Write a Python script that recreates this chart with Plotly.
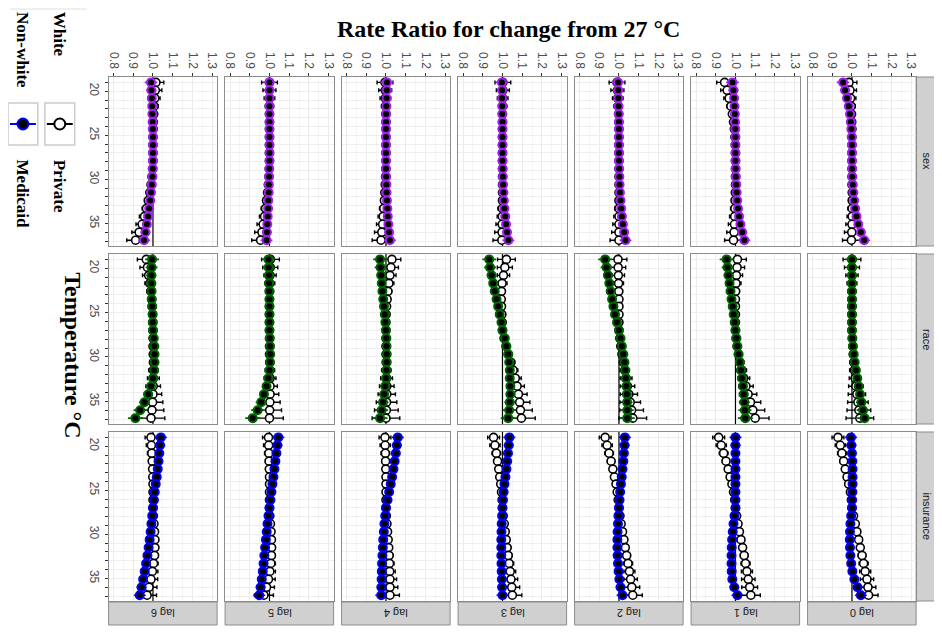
import plotly.graph_objects as go

# page body has an 8px default margin: figure is drawn 8px in from the top-left
OFF = 8
W, H = 942 - OFF, 634 - OFF

temps = [19.0, 19.9, 20.8, 21.7, 22.6, 23.5, 24.3, 25.2, 26.1, 27.0, 27.9,
         28.8, 29.7, 30.6, 31.5, 32.4, 33.3, 34.2, 35.1, 36.0, 36.9]
temp_range = [37.56, 18.39]
rr_range = [0.775, 1.325]
ref_rr = 1.0
lag_labels = ["lag 0", "lag 1", "lag 2", "lag 3", "lag 4", "lag 5", "lag 6"]
row_labels = ["sex", "race", "insurance"]
row_colors = ["#A020F0", "#006400", "#0000FF"]
rr_ticks = [0.8, 0.9, 1.0, 1.1, 1.2, 1.3]
temp_labels = {20: "20", 25: "25", 30: "30", 35: "35"}

# ---- sex: filled (purple) and open series, lag 0..6
sex_filled = [
    [0.955,0.965,0.975,0.984,0.99,0.994,0.997,0.999,1.0,1.0,1.0,1.001,1.002,1.004,1.007,1.011,1.016,1.023,1.032,1.045,1.062],
    [0.985,0.99,0.993,0.995,0.997,0.998,0.999,1.0,1.0,1.0,1.0,1.001,1.002,1.004,1.006,1.009,1.013,1.018,1.025,1.034,1.045],
    [0.995,0.996,0.997,0.998,0.999,1.0,1.0,1.0,1.0,1.0,1.0,1.001,1.002,1.003,1.005,1.008,1.011,1.015,1.02,1.026,1.033],
    [0.997,0.998,0.998,0.999,0.999,1.0,1.0,1.0,1.0,1.0,1.0,1.001,1.002,1.003,1.005,1.007,1.01,1.014,1.018,1.023,1.03],
    [1.005,1.004,1.003,1.002,1.001,1.0,1.0,1.0,1.0,1.0,1.0,1.0,1.001,1.002,1.003,1.005,1.007,1.009,1.012,1.016,1.02],
    [1.0,1.0,1.0,1.0,1.0,1.0,1.0,1.0,1.0,1.0,1.0,0.999,0.998,0.997,0.996,0.994,0.993,0.991,0.989,0.987,0.985],
    [0.99,0.992,0.994,0.996,0.997,0.998,0.999,1.0,1.0,1.0,1.0,0.999,0.997,0.994,0.99,0.986,0.981,0.975,0.969,0.962,0.955],
]
sex_open = [
    [0.985,0.99,0.993,0.996,0.998,0.999,1.0,1.0,1.0,1.0,1.0,1.0,1.0,1.0,1.001,1.001,1.001,1.001,1.0,0.999,0.997],
    [0.945,0.958,0.968,0.977,0.984,0.99,0.994,0.997,0.999,1.0,1.0,1.0,1.0,1.0,0.999,0.998,0.997,0.996,0.995,0.993,0.99],
    [0.99,0.992,0.994,0.996,0.998,0.999,1.0,1.0,1.0,1.0,1.0,1.0,1.0,1.0,1.0,1.0,1.0,1.0,1.0,1.0,1.0],
    [1.002,1.002,1.001,1.001,1.0,1.0,1.0,1.0,1.0,1.0,1.0,1.0,1.0,1.0,1.0,1.0,0.999,0.999,0.998,0.998,0.997],
    [0.995,0.996,0.997,0.998,0.999,1.0,1.0,1.0,1.0,1.0,1.0,0.999,0.998,0.996,0.994,0.992,0.989,0.986,0.983,0.979,0.975],
    [1.0,1.0,1.0,1.0,1.0,1.0,1.0,1.0,1.0,1.0,1.0,0.999,0.997,0.994,0.99,0.985,0.98,0.975,0.968,0.962,0.955],
    [1.015,1.012,1.009,1.006,1.004,1.002,1.001,1.0,1.0,1.0,1.0,0.998,0.995,0.99,0.984,0.976,0.967,0.957,0.945,0.93,0.912],
]
# ---- race: filled (green) = Non-white, open = White
race_filled = [
    [1.0,1.0,1.0,1.0,1.0,1.0,1.0,1.0,1.0,1.0,1.002,1.005,1.009,1.014,1.02,1.027,1.034,1.041,1.048,1.056,1.064],
    [0.955,0.96,0.965,0.97,0.975,0.98,0.986,0.991,0.996,1.0,1.005,1.01,1.016,1.022,1.028,1.033,1.038,1.042,1.045,1.048,1.05],
    [0.93,0.937,0.944,0.951,0.958,0.965,0.972,0.98,0.99,1.0,1.008,1.015,1.022,1.028,1.032,1.035,1.038,1.04,1.041,1.042,1.042],
    [0.933,0.937,0.945,0.953,0.961,0.97,0.978,0.986,0.995,1.0,1.012,1.02,1.029,1.034,1.037,1.037,1.04,1.04,1.037,1.034,1.029],
    [0.97,0.973,0.976,0.979,0.982,0.986,0.99,0.994,0.997,1.0,1.002,1.003,1.004,1.004,1.003,1.0,0.996,0.991,0.985,0.978,0.97],
    [0.995,0.996,0.997,0.998,0.999,1.0,1.0,1.0,1.0,1.0,1.002,1.003,1.004,1.003,1.0,0.994,0.985,0.972,0.958,0.94,0.915],
    [0.995,0.993,0.992,0.992,0.993,0.994,0.996,0.998,0.999,1.0,1.004,1.007,1.008,1.008,1.006,1.0,0.99,0.976,0.957,0.935,0.911],
]
race_open = [
    [1.0,1.0,1.0,1.0,1.0,1.0,1.0,1.0,1.0,1.0,1.002,1.004,1.006,1.009,1.012,1.016,1.02,1.025,1.03,1.035,1.04],
    [1.01,1.008,1.005,1.003,1.001,1.0,1.0,1.0,1.0,1.0,1.003,1.008,1.015,1.023,1.032,1.042,1.053,1.064,1.076,1.088,1.1],
    [0.995,0.996,0.997,0.998,0.999,1.0,1.0,1.0,1.0,1.0,1.004,1.009,1.015,1.022,1.029,1.036,1.043,1.05,1.057,1.064,1.07],
    [1.02,1.012,1.005,0.998,0.995,0.994,0.995,0.997,0.999,1.0,1.008,1.018,1.03,1.043,1.054,1.065,1.074,1.081,1.087,1.091,1.096],
    [1.03,1.025,1.02,1.015,1.01,1.006,1.003,1.001,1.0,1.0,1.0,1.0,1.0,1.001,1.002,1.003,1.004,1.004,1.003,1.002,1.0],
    [1.005,1.004,1.003,1.002,1.001,1.0,1.0,1.0,1.0,1.0,1.0,1.0,1.0,1.001,1.002,1.003,1.003,1.003,1.002,1.001,1.0],
    [0.966,0.972,0.978,0.984,0.989,0.993,0.996,0.998,0.999,1.0,1.0,1.0,1.001,1.002,1.002,1.002,1.001,1.0,0.998,0.995,0.99],
]
# ---- insurance: filled (blue) = Medicaid, open = Private
ins_filled = [
    [0.995,0.997,1.0,1.002,1.003,1.003,1.003,1.002,1.001,1.0,0.996,0.992,0.99,0.989,0.99,0.992,0.996,1.002,1.012,1.028,1.045],
    [1.0,1.0,1.0,1.0,1.0,1.0,1.0,1.0,1.0,1.0,0.995,0.99,0.986,0.983,0.981,0.98,0.98,0.981,0.984,0.994,1.01],
    [1.03,1.028,1.025,1.022,1.018,1.014,1.01,1.006,1.003,1.0,0.997,0.995,0.993,0.992,0.992,0.993,0.995,0.998,1.002,1.008,1.018],
    [1.035,1.032,1.028,1.024,1.02,1.015,1.01,1.006,1.003,1.0,0.998,0.996,0.995,0.994,0.994,0.994,0.995,0.996,0.997,0.998,1.0],
    [1.06,1.055,1.05,1.044,1.038,1.031,1.024,1.016,1.008,1.0,0.996,0.992,0.989,0.986,0.984,0.982,0.98,0.979,0.978,0.977,0.976],
    [1.045,1.04,1.035,1.03,1.025,1.02,1.015,1.01,1.005,1.0,0.995,0.99,0.986,0.982,0.978,0.974,0.97,0.966,0.961,0.955,0.948],
    [1.04,1.036,1.032,1.028,1.024,1.019,1.014,1.009,1.005,1.0,0.996,0.992,0.988,0.983,0.978,0.972,0.965,0.958,0.95,0.942,0.933],
]
ins_open = [
    [0.929,0.941,0.949,0.958,0.966,0.975,0.983,0.992,0.997,1.0,1.008,1.017,1.025,1.034,1.042,1.051,1.059,1.067,1.076,1.081,1.084],
    [0.915,0.928,0.94,0.952,0.963,0.973,0.982,0.99,0.996,1.0,1.006,1.013,1.02,1.028,1.036,1.044,1.051,1.058,1.065,1.072,1.078],
    [0.93,0.94,0.95,0.96,0.969,0.977,0.985,0.991,0.996,1.0,1.005,1.011,1.018,1.025,1.032,1.039,1.046,1.053,1.059,1.065,1.07],
    [0.955,0.962,0.969,0.975,0.981,0.986,0.991,0.995,0.998,1.0,1.004,1.009,1.014,1.019,1.024,1.029,1.034,1.039,1.043,1.047,1.05],
    [0.995,0.996,0.997,0.998,0.999,1.0,1.0,1.0,1.0,1.0,1.002,1.005,1.008,1.011,1.014,1.016,1.018,1.019,1.02,1.02,1.02],
    [0.995,0.996,0.997,0.998,0.999,1.0,1.0,1.0,1.0,1.0,1.002,1.005,1.008,1.01,1.011,1.01,1.007,1.002,0.995,0.985,0.972],
    [0.99,0.992,0.994,0.996,0.998,0.999,1.0,1.0,1.0,1.0,1.002,1.005,1.008,1.01,1.01,1.008,1.003,0.997,0.99,0.98,0.97],
]
# ---- CI half-widths per row / group
err_sex_f = [0.032,0.026,0.021,0.017,0.013,0.01,0.007,0.005,0.003,0.0,0.003,0.005,0.007,0.009,0.011,0.013,0.015,0.018,0.021,0.025,0.03]
err_sex_o = [0.04,0.033,0.027,0.021,0.016,0.012,0.009,0.006,0.003,0.0,0.003,0.006,0.009,0.012,0.015,0.018,0.022,0.026,0.031,0.037,0.045]
err_race_f = [0.035,0.03,0.025,0.02,0.016,0.012,0.008,0.005,0.003,0.0,0.003,0.005,0.008,0.011,0.014,0.017,0.02,0.024,0.028,0.033,0.038]
err_race_o = [0.045,0.038,0.031,0.025,0.019,0.014,0.01,0.006,0.003,0.0,0.004,0.008,0.013,0.018,0.024,0.03,0.037,0.044,0.052,0.06,0.07]
err_ins_f = [0.03,0.026,0.022,0.018,0.014,0.01,0.007,0.005,0.003,0.0,0.003,0.005,0.007,0.009,0.011,0.013,0.015,0.018,0.021,0.025,0.03]
err_ins_o = [0.03,0.026,0.022,0.018,0.014,0.011,0.008,0.005,0.003,0.0,0.003,0.006,0.009,0.012,0.015,0.019,0.023,0.028,0.034,0.04,0.048]

filled_sets = [sex_filled, race_filled, ins_filled]
open_sets = [sex_open, race_open, ins_open]
err_f_sets = [err_sex_f, err_race_f, err_ins_f]
err_o_sets = [err_sex_o, err_race_o, err_ins_o]

# ---- geometry (screen pixels of the 942x634 window)
col_left0, col_step, col_w = 107, 117, 109
row_top = [77, 254, 432]
row_bot = [246, 424, 601]
strip_bot_y = (602, 625)
strip_right_x = (918, 940)

fig = go.Figure()
layout_axes = {}
shapes = []
annotations = []

def px_x(v):
    return (v - OFF) / W

def px_y(v):
    return 1 - (v - OFF) / H

tick_font = dict(family="Liberation Sans, Arial", size=12, color="#4D4D4D")
strip_font = dict(family="Liberation Sans, Arial", size=11, color="#1A1A1A")

for r in range(3):
    for k in range(7):
        idx = r * 7 + k + 1
        col = 6 - k
        x0 = col_left0 + col_step * col
        x1 = x0 + col_w
        xa = "x" if idx == 1 else f"x{idx}"
        ya = "y" if idx == 1 else f"y{idx}"
        xname = "xaxis" if idx == 1 else f"xaxis{idx}"
        yname = "yaxis" if idx == 1 else f"yaxis{idx}"
        layout_axes[xname] = dict(
            domain=[px_x(x0), px_x(x1)], anchor=ya, range=rr_range,
            tickvals=rr_ticks, ticktext=[f"{v:.1f}" for v in rr_ticks],
            showticklabels=(r == 0), side="top", tickangle=90,
            ticks="outside" if r == 0 else "", ticklen=3, tickcolor="#333333",
            tickfont=tick_font,
            showgrid=True, gridcolor="#EBEBEB", gridwidth=1,
            minor=dict(tickvals=[0.85, 0.95, 1.05, 1.15, 1.25], showgrid=True,
                       gridcolor="#F4F4F4", gridwidth=0.6, ticks=""),
            zeroline=False, showline=True, mirror=True, linecolor="#8C8C8C", linewidth=1,
        )
        layout_axes[yname] = dict(
            domain=[px_y(row_bot[r]), px_y(row_top[r])], anchor=xa,
            range=temp_range,
            tickvals=list(range(19, 38)),
            ticktext=[temp_labels.get(t, "") for t in range(19, 38)],
            showticklabels=(col == 0), tickangle=90,
            ticks="outside" if col == 0 else "", ticklen=3, tickcolor="#333333",
            tickfont=tick_font,
            showgrid=True, gridcolor="#EEEEEE", gridwidth=0.8,
            zeroline=False, showline=True, mirror=True, linecolor="#8C8C8C", linewidth=1,
        )
        # reference line at RR = 1 (drawn first, under the points)
        fig.add_trace(go.Scatter(
            x=[ref_rr, ref_rr], y=temp_range, xaxis=xa, yaxis=ya, mode="lines",
            line=dict(color="black", width=1.2), showlegend=False, hoverinfo="skip"))
        # open series
        fig.add_trace(go.Scatter(
            x=open_sets[r][k], y=temps, xaxis=xa, yaxis=ya, mode="markers",
            error_x=dict(type="data", array=err_o_sets[r], color="black", thickness=1.4, width=2),
            marker=dict(symbol="circle", size=8, color="white", line=dict(color="black", width=1.6)),
            showlegend=False, hoverinfo="skip"))
        # filled series
        fig.add_trace(go.Scatter(
            x=filled_sets[r][k], y=temps, xaxis=xa, yaxis=ya, mode="markers",
            error_x=dict(type="data", array=err_f_sets[r], color=row_colors[r], thickness=1.6, width=0),
            marker=dict(symbol="circle", size=8, color="black", line=dict(color=row_colors[r], width=2)),
            showlegend=False, hoverinfo="skip"))

def ann(text, x, y, font, angle=0, xanchor="center", yanchor="middle"):
    annotations.append(dict(text=text, xref="paper", yref="paper", x=px_x(x), y=px_y(y),
                            showarrow=False, textangle=angle, xanchor=xanchor, yanchor=yanchor,
                            font=font))

# bottom strips (lag labels)
for k in range(7):
    col = 6 - k
    x0 = col_left0 + col_step * col
    x1 = x0 + col_w
    shapes.append(dict(type="rect", xref="paper", yref="paper",
                       x0=px_x(x0), x1=px_x(x1), y0=px_y(strip_bot_y[1]), y1=px_y(strip_bot_y[0]),
                       fillcolor="#D0D0D0", line=dict(color="#8C8C8C", width=1), layer="below"))
    ann(lag_labels[k], (x0 + x1) / 2, sum(strip_bot_y) / 2, strip_font, angle=180)
# right strips (row labels)
for r in range(3):
    shapes.append(dict(type="rect", xref="paper", yref="paper",
                       x0=px_x(strip_right_x[0]), x1=px_x(strip_right_x[1]),
                       y0=px_y(row_bot[r]), y1=px_y(row_top[r]),
                       fillcolor="#D0D0D0", line=dict(color="#8C8C8C", width=1), layer="below"))
    ann(row_labels[r], sum(strip_right_x) / 2, (row_top[r] + row_bot[r]) / 2, strip_font, angle=90)

serif = "Liberation Serif, Times New Roman, serif"
ann("<b>Rate Ratio for change from 27 °C</b>", 509, 29, dict(family=serif, size=24, color="black"))
ann("<b>Temperature °C</b>", 71, 355, dict(family=serif, size=24, color="black"), angle=90)

# legend (drawn manually, rotated like the rest of the figure)
leg_font = dict(family=serif, size=17, color="black")
ann("<b>White</b>", 58, 10, leg_font, angle=90, yanchor="top")
ann("<b>Non-white</b>", 21, 10, leg_font, angle=90, yanchor="top")
ann("<b>Private</b>", 58, 158, leg_font, angle=90, yanchor="top")
ann("<b>Medicaid</b>", 21, 158, leg_font, angle=90, yanchor="top")
shapes.append(dict(type="line", xref="paper", yref="paper", x0=px_x(8), x1=px_x(85),
                   y0=px_y(9), y1=px_y(9), line=dict(color="#E0E0E0", width=1)))
for cx, fill, lc in [(58, "white", "black"), (21, "black", "#0000FF")]:
    shapes.append(dict(type="rect", xref="paper", yref="paper", x0=px_x(cx - 15), x1=px_x(cx + 15),
                       y0=px_y(145), y1=px_y(103), fillcolor="white",
                       line=dict(color="#CCCCCC", width=1.5)))
    shapes.append(dict(type="line", xref="paper", yref="paper", x0=px_x(cx - 13), x1=px_x(cx + 13),
                       y0=px_y(124), y1=px_y(124), line=dict(color=lc, width=2)))
    shapes.append(dict(type="circle", xref="paper", yref="paper", x0=px_x(cx - 5.5), x1=px_x(cx + 5.5),
                       y0=px_y(129.5), y1=px_y(118.5), fillcolor=fill, line=dict(color=lc, width=2)))

fig.update_layout(
    width=W, height=H, margin=dict(l=0, r=0, t=0, b=0),
    paper_bgcolor="white", plot_bgcolor="white",
    shapes=shapes, annotations=annotations, showlegend=False,
    **layout_axes,
)
fig.write_html("out.html")
